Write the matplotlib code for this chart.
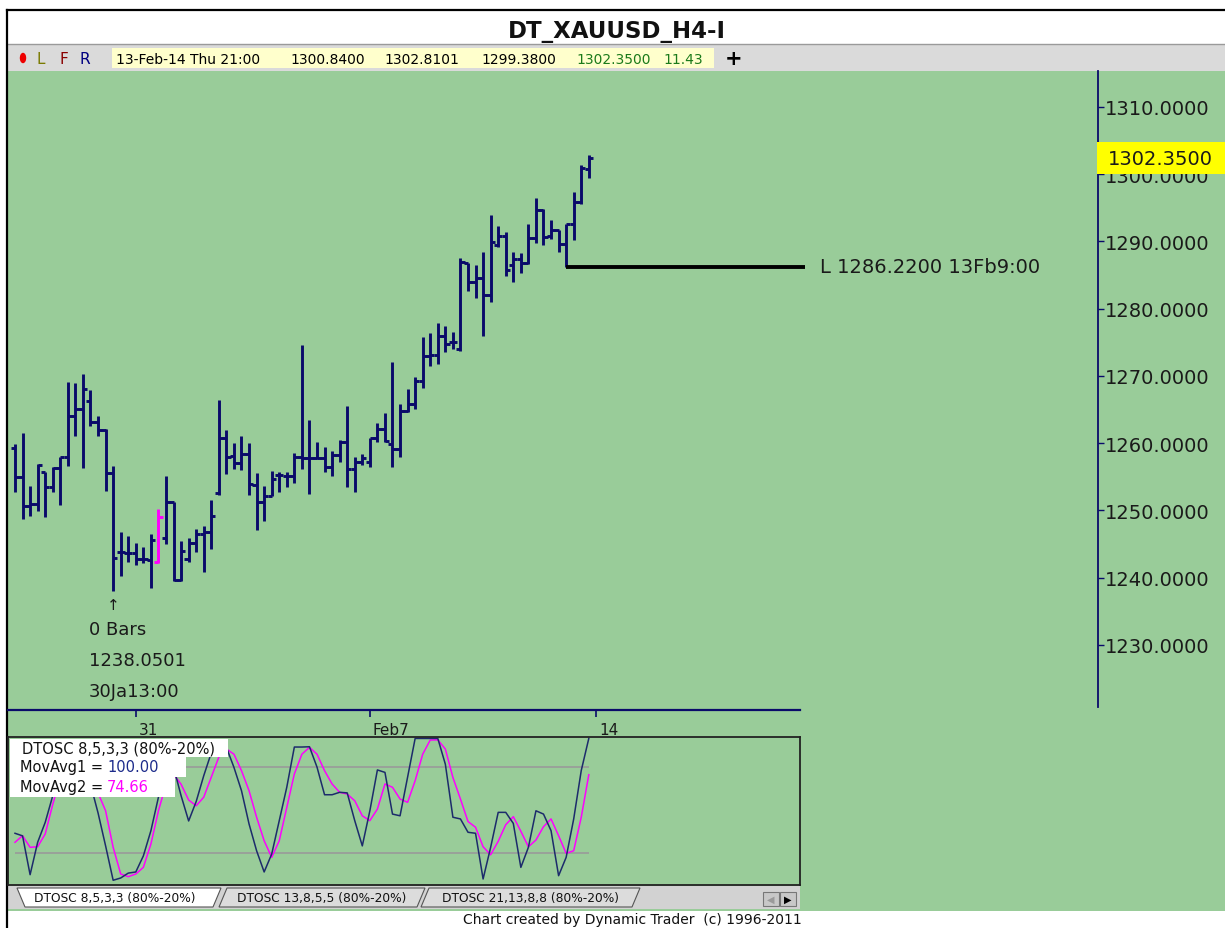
import matplotlib
matplotlib.use('Agg')
import matplotlib.pyplot as plt
from matplotlib.patches import Rectangle, Polygon, Ellipse
from matplotlib.transforms import blended_transform_factory
import numpy as np

# XAUUSD H4 bars, 29-Jan-14 .. 13-Feb-14 21:00
opens = [1259.3, 1255.0, 1250.7, 1251.0, 1255.7, 1253.5, 1256.3, 1258.0, 1264.0, 1265.1,
         1266.3, 1263.2, 1262.0, 1255.6, 1243.8, 1243.7, 1243.7, 1242.8, 1242.6, 1242.3,
         1245.9, 1251.3, 1239.7, 1242.8, 1245.2, 1246.5, 1246.8, 1252.6, 1260.8, 1258.1,
         1257.1, 1258.4, 1253.8, 1251.3, 1252.2, 1255.3, 1255.1, 1255.1, 1258.0, 1257.8,
         1257.8, 1257.8, 1256.5, 1258.2, 1260.2, 1256.2, 1257.2, 1257.2, 1260.8, 1262.1,
         1259.9, 1259.1, 1264.8, 1265.8, 1269.3, 1273.0, 1273.1, 1276.0, 1275.1, 1274.0,
         1286.8, 1284.0, 1284.6, 1282.0, 1289.5, 1290.8, 1286.5, 1287.4, 1286.8, 1290.5,
         1294.7, 1290.8, 1291.7, 1289.6, 1292.6, 1295.9, 1300.84]
highs = [1259.9, 1261.5, 1253.6, 1256.9, 1255.7, 1256.5, 1258.0, 1269.1, 1269.0, 1270.3,
         1267.9, 1264.0, 1262.1, 1256.6, 1246.8, 1246.2, 1245.2, 1244.6, 1246.5, 1250.2,
         1255.1, 1251.3, 1245.5, 1245.9, 1247.3, 1247.7, 1251.6, 1266.4, 1262.0, 1260.0,
         1261.1, 1260.0, 1255.6, 1253.6, 1255.9, 1255.7, 1255.7, 1258.6, 1274.6, 1263.5,
         1260.2, 1259.4, 1258.9, 1260.5, 1265.5, 1258.0, 1258.4, 1260.8, 1263.0, 1264.5,
         1272.1, 1265.8, 1268.1, 1269.9, 1275.8, 1276.4, 1277.9, 1277.4, 1276.5, 1287.6,
         1286.8, 1286.5, 1288.4, 1293.9, 1292.3, 1291.4, 1288.4, 1288.3, 1292.6, 1296.5,
         1294.8, 1293.2, 1291.7, 1292.6, 1297.4, 1301.4, 1302.81]
lows = [1252.8, 1248.7, 1249.2, 1249.9, 1249.0, 1252.8, 1250.8, 1256.6, 1261.1, 1256.3,
        1262.6, 1261.1, 1252.9, 1238.05, 1240.3, 1242.3, 1241.9, 1242.2, 1238.5, 1242.2,
        1245.0, 1239.5, 1239.5, 1242.3, 1243.8, 1240.9, 1244.3, 1252.3, 1255.4, 1256.2,
        1256.0, 1252.3, 1247.1, 1248.4, 1252.1, 1252.8, 1253.5, 1254.1, 1256.2, 1252.5,
        1257.7, 1255.7, 1255.1, 1257.2, 1253.5, 1252.8, 1256.8, 1256.5, 1260.2, 1260.2,
        1256.5, 1258.0, 1264.7, 1265.1, 1268.2, 1271.5, 1271.8, 1273.6, 1274.0, 1273.7,
        1282.6, 1281.6, 1276.0, 1281.0, 1289.2, 1284.9, 1284.0, 1285.3, 1286.7, 1289.8,
        1289.5, 1290.4, 1288.4, 1286.22, 1290.2, 1295.6, 1299.38]
closes = [1255.0, 1250.7, 1251.0, 1256.8, 1253.5, 1256.3, 1258.0, 1264.0, 1265.1, 1268.1,
          1263.2, 1262.0, 1255.6, 1242.9, 1243.8, 1243.7, 1242.8, 1242.8, 1245.6, 1249.0,
          1251.3, 1239.7, 1244.0, 1245.2, 1246.5, 1246.8, 1249.2, 1260.8, 1258.0, 1257.1,
          1258.4, 1253.9, 1251.3, 1252.2, 1254.7, 1255.3, 1255.1, 1258.0, 1257.8, 1257.8,
          1257.8, 1256.5, 1258.2, 1260.2, 1256.2, 1257.2, 1257.8, 1260.8, 1262.1, 1260.3,
          1259.1, 1264.8, 1265.8, 1269.3, 1273.0, 1273.1, 1276.0, 1274.8, 1275.1, 1287.0,
          1284.0, 1284.6, 1282.0, 1289.9, 1290.8, 1285.8, 1287.4, 1286.8, 1290.5, 1294.7,
          1290.7, 1291.7, 1289.6, 1292.6, 1295.9, 1300.9, 1302.35]

# DTOSC 8,5,3,3 lines
mov_avg1 = [33.8, 32, 4.9, 27.5, 41.4, 60, 78, 92, 98, 88,
            68, 48, 25, 1, 2.6, 6, 6.8, 18, 35.6, 59,
            85, 80, 60, 42.4, 56, 74, 90, 96, 93.8, 79.8,
            63.5, 40.3, 21.6, 6.8, 19.3, 42.6, 66, 94, 94, 94.2,
            80, 60.7, 60.7, 62.4, 62, 42.6, 25, 49.5, 78, 76.3,
            47.2, 46, 73, 100, 100, 100, 100, 82, 45, 43.8,
            34.5, 33.8, 1.9, 24, 48.4, 48.4, 40.7, 10, 24, 49.5,
            47.2, 35.6, 4.2, 17, 43.8, 77.6, 100]
mov_avg2 = [27.5, 32.1, 24, 24.4, 33.3, 54, 72, 86, 93, 92,
            82, 62, 49.5, 24, 5.4, 3.5, 5.4, 10, 26.3, 49.5,
            68, 75, 68, 57, 53, 59, 73, 87, 92.6, 89,
            77.5, 63.5, 45, 28.6, 17, 28.6, 51.9, 75.2, 89, 93.8,
            89, 77.5, 68.2, 62.4, 61.2, 56.5, 46, 42.6, 50.7, 68.2,
            65.9, 57.7, 55.4, 70.5, 89, 98.9, 99, 92.6, 72.8, 57.7,
            42, 38, 24.4, 18.8, 28.2, 39.8, 45.4, 35.2, 24.4, 29.1,
            38.4, 43.8, 32.1, 19.8, 21.6, 45, 74.66]

date_ticks = [16, 47, 77]
date_labels = ['31', 'Feb7', '14']
price_ticks = [1230, 1240, 1250, 1260, 1270, 1280, 1290, 1300, 1310]

low_bar, low_price = 13, 1238.0501
ret_bar, ret_price = 73, 1286.22
last_price = 1302.35
pink_bar = 19

GREEN = '#99cc99'
NAVY = '#0a0a6a'
W, H = 1225, 929

fig = plt.figure(figsize=(W / 100, H / 100), dpi=100)
fig.patch.set_facecolor('white')


def px_axes(x0, y0, x1, y1, z):
    a = fig.add_axes([x0 / W, 1 - y1 / H, (x1 - x0) / W, (y1 - y0) / H], zorder=z)
    a.set_facecolor('none')
    return a


# ---- background / window chrome, pixel coords
bg = px_axes(0, 0, W, H, 0)
bg.set_xlim(0, W)
bg.set_ylim(H, 0)
bg.axis('off')
bg.add_patch(Rectangle((8, 72), W - 8, 840, color=GREEN, lw=0))
bg.add_patch(Rectangle((8, 45), W - 8, 27, color='#dadada', lw=0))
bg.plot([8, W], [45, 45], color='#9a9a9a', lw=1)
bg.plot([7, W], [11, 11], color='black', lw=1.6)
bg.plot([7, 7], [11, H], color='black', lw=1.6)
bg.text(617, 31, 'DT_XAUUSD_H4-I', ha='center', va='center', fontsize=16.5,
        fontweight='bold', family='DejaVu Sans', color='#111111')

bg.add_patch(Ellipse((23, 59), 5, 9, color='#ee0000'))
bg.text(41, 59, 'L', color='#7a7a00', fontsize=11, ha='center', va='center')
bg.text(64, 59, 'F', color='#8a0000', fontsize=11, ha='center', va='center')
bg.text(85, 59, 'R', color='#000080', fontsize=11, ha='center', va='center')
info_box = Rectangle((112, 49), 602, 20, color='#ffffcc', lw=0)
bg.add_patch(info_box)
info = [('13-Feb-14 Thu 21:00', 116, 'black'), ('1300.8400', 290, 'black'),
        ('1302.8101', 384, 'black'), ('1299.3800', 481, 'black'),
        ('1302.3500', 576, '#1a7a1a'), ('11.43', 663, '#1a7a1a')]
for s, x, c in info:
    t = bg.text(x, 59.5, s, color=c, fontsize=10, ha='left', va='center')
    t.set_clip_path(info_box)
bg.text(734, 59, '+', fontsize=15, fontweight='bold', ha='center', va='center')

# tab strip
bg.add_patch(Rectangle((8, 887), 792, 23, color='#d2d2d2', lw=0))
tabs = [('DTOSC 21,13,8,8 (80%-20%)', [(421, 908), (429, 889), (640, 889), (632, 908)], '#dcdcdc'),
        ('DTOSC 13,8,5,5 (80%-20%)', [(219, 908), (227, 889), (425, 889), (417, 908)], '#dcdcdc'),
        ('DTOSC 8,5,3,3 (80%-20%)', [(17, 889), (221, 889), (213, 908), (25, 908)], 'white')]
for label, pts, fc in tabs:
    bg.add_patch(Polygon(pts, closed=True, fc=fc, ec='#555555', lw=0.8))
    cx = (pts[0][0] + pts[2][0]) / 2
    bg.text(cx, 899, label, ha='center', va='center', fontsize=8.8, color='#111111')
bg.add_patch(Rectangle((763, 893), 16, 14, fc='#c8c8c8', ec='#777777', lw=0.8))
bg.add_patch(Rectangle((780, 893), 16, 14, fc='#c8c8c8', ec='#777777', lw=0.8))
bg.text(771, 900, '◀', fontsize=7, color='#9a9a9a', ha='center', va='center')
bg.text(788, 900, '▶', fontsize=7, color='black', ha='center', va='center')
bg.text(802, 920, 'Chart created by Dynamic Trader  (c) 1996-2011', ha='right',
        va='center', fontsize=10, color='#111111')

# ---- price panel
x_px0, bar_px = 15, 7.55   # pixel of bar 0, pixels per bar
idx = np.arange(len(closes))

ax = px_axes(8, 72, 1098, 711, 2)
ax.set_xlim((8 - x_px0) / bar_px, (1098 - x_px0) / bar_px)
ax.set_ylim(1220.33, 1315.35)
for s in ['top', 'bottom', 'left']:
    ax.spines[s].set_visible(False)
ax.spines['right'].set_color(NAVY)
ax.spines['right'].set_linewidth(1.3)
ax.spines['right'].set_bounds(1220.8, 1315.35)
ax.set_xticks([])
ax.yaxis.tick_right()
ax.set_yticks(price_ticks)
ax.set_yticklabels(['%.4f' % p for p in price_ticks])
ax.tick_params(axis='y', direction='out', length=4, width=1, color=NAVY,
               labelsize=14, labelcolor='#1a1a1a', pad=1)

cols = [('#ff00ff' if i == pink_bar else NAVY) for i in idx]
ax.vlines(idx, lows, highs, colors=cols, lw=2.1)
ax.hlines(opens, idx - 0.55, idx, colors=cols, lw=2.1)
ax.hlines(closes, idx, idx + 0.55, colors=cols, lw=2.1)

# retracement line from the 13Feb 9:00 low
ax.hlines(ret_price, ret_bar, (805 - x_px0) / bar_px, color='black', lw=2.8)
ax.annotate('L %.4f 13Fb9:00' % ret_price, xy=((805 - x_px0) / bar_px, ret_price),
            xytext=(15, 0), textcoords='offset pixels', va='center', ha='left',
            fontsize=14, color='#1a1a1a')

# swing low label
ax.annotate('↑', xy=(low_bar, low_price), xytext=(0, -14), textcoords='offset pixels',
            ha='center', va='center', fontsize=11, color='#1a1a1a')
for k, s in enumerate(['0 Bars', '%.4f' % low_price, '30Ja13:00']):
    ax.annotate(s, xy=(low_bar, low_price), xytext=(-24, -38 - 31 * k),
                textcoords='offset pixels', ha='left', va='center', fontsize=13,
                color='#1a1a1a')

# last price box on the scale
bt = blended_transform_factory(ax.transAxes, ax.transData)
ax.add_patch(Rectangle((0.999, last_price - 2.38), 0.13, 4.76, transform=bt,
                       color='#ffff00', lw=0, clip_on=False, zorder=5))
ax.text(1.009, last_price, '%.4f' % last_price, transform=bt, va='center', ha='left',
        fontsize=14, color='#1a1a1a', zorder=6, clip_on=False)

# ---- date axis
xl = ((8 - x_px0) / bar_px, (800 - x_px0) / bar_px)
ad = px_axes(8, 711, 800, 740, 2)
ad.set_xlim(xl)
ad.set_ylim(0, 1)
for s in ['bottom', 'left', 'right']:
    ad.spines[s].set_visible(False)
ad.spines['top'].set_color(NAVY)
ad.spines['top'].set_linewidth(1.6)
ad.set_yticks([])
ad.set_xticks(date_ticks)
ad.tick_params(axis='x', top=True, bottom=False, labelbottom=False, labeltop=False,
               direction='in', length=5, width=1.2, color=NAVY)
for t, s in zip(date_ticks, date_labels):
    ad.annotate(s, xy=(t, 0.32), xytext=(3, 0), textcoords='offset pixels',
                ha='left', va='center', fontsize=11, color='#1a1a1a')

# ---- oscillator panel
ao = px_axes(8, 738, 800, 886, 2)
ao.set_xlim(xl)
ao.set_ylim(-2.3, 101)
ao.set_xticks([])
ao.set_yticks([])
for s in ao.spines.values():
    s.set_color('#222222')
    s.set_linewidth(1.3)
ao.hlines([80, 20], 0, len(idx) - 1, color='#9a9a9a', lw=1.2)
ao.plot(idx, mov_avg2, color='#ff00ff', lw=1.1)
ao.plot(idx, mov_avg1, color='#1c2b6b', lw=1.1)

# oscillator legend boxes
fg = px_axes(0, 0, W, H, 5)
fg.set_xlim(0, W)
fg.set_ylim(H, 0)
fg.axis('off')
fg.add_patch(Rectangle((10, 740), 218, 18, color='white', lw=0))
fg.add_patch(Rectangle((10, 758), 176, 20, color='white', lw=0))
fg.add_patch(Rectangle((10, 778), 165, 20, color='white', lw=0))
fg.text(22, 749, 'DTOSC 8,5,3,3 (80%-20%)', fontsize=10.5, va='center', color='#111111')
fg.text(20, 768, 'MovAvg1 =', fontsize=10.5, va='center', color='#111111')
fg.text(107, 768, '%.2f' % mov_avg1[-1], fontsize=10.5, va='center', color='#1c2b8b')
fg.text(20, 788, 'MovAvg2 =', fontsize=10.5, va='center', color='#111111')
fg.text(107, 788, '%.2f' % mov_avg2[-1], fontsize=10.5, va='center', color='#ff00ff')

fig.savefig('out.png', dpi=100)
